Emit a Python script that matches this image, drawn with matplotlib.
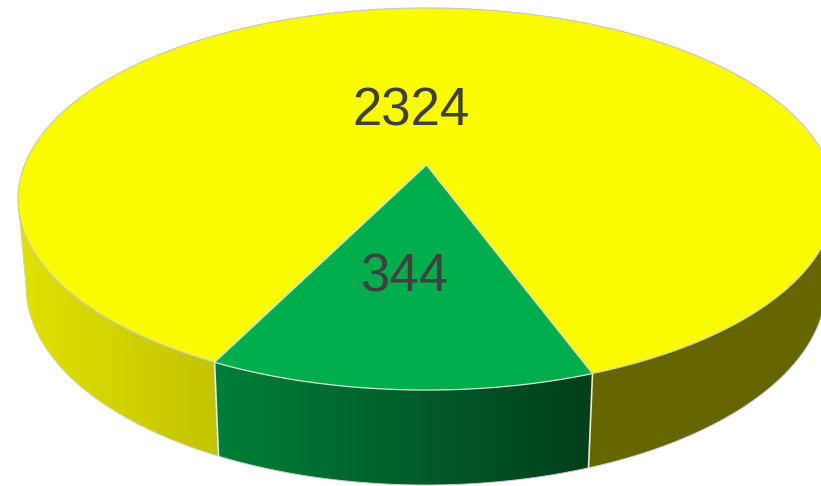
import numpy as np
import matplotlib
matplotlib.use("Agg")
import matplotlib.pyplot as plt
from matplotlib.patches import Polygon

# slice values and how they look
values = [2324, 344]
labels = ["2324", "344"]
colors = [(0.98, 0.98, 0.0), (0.0, 0.68, 0.30)]
label_pos = [(411, 107), (404, 273)]

W, H = 821, 486
K = 0.178  # perspective strength
START = np.radians(-26.3)  # front left edge of the green slice
# apex x, apex y, vertical and horizontal scale of the top and bottom discs
TOP = (426.5, 165, 185, 402)
BOTTOM = (426, 250.6, 192.7, 393.6)
# angle where the disc outline turns back, the wall ends there
SILHOUETTE = np.arccos(K)


def project(theta, disc):
    """Map an angle on the unit circle (0 = towards viewer) to pixels."""
    cx, cy, a, b = disc
    u = np.sin(theta)
    v = np.cos(theta)
    w = 1 - K * v
    return cx + b * u / w, cy + a * v / w


def wall(ax, theta, color, xp, fp):
    xt, yt = project(theta, TOP)
    xb, yb = project(theta, BOTTOM)
    pts = np.column_stack([np.r_[xt, xb[::-1]], np.r_[yt, yb[::-1]]])
    patch = Polygon(pts, closed=True, fc="none", ec="none")
    ax.add_patch(patch)
    xs = np.arange(0, W) + 0.5
    f = np.interp(xs, xp, fp)
    img = np.array(color)[None, None, :] * f[None, :, None]
    im = ax.imshow(img, extent=(0, W, H, 0), aspect="auto", zorder=1,
                   interpolation="nearest")
    im.set_clip_path(patch)
    # thin outer outline
    ax.plot(xb, yb, color="#cfcfcf", lw=0.7, zorder=2)
    return xb, yb


fig = plt.figure(figsize=(W / 100, H / 100), dpi=100)
ax = fig.add_axes([0, 0, 1, 1])

sweep = np.array(values[::-1]) / sum(values) * 2 * np.pi
green_start = START
green_end = START + sweep[0]

# side walls, only the part towards the viewer shows
left = np.linspace(-SILHOUETTE, green_start, 120)
right = np.linspace(green_end, SILHOUETTE, 120)
front = np.linspace(green_start, green_end, 80)
yellow_x = [22, 218, 590, 821]
yellow_f = [0.90, 0.78, 0.41, 0.41]
wall(ax, left, colors[0], yellow_x, yellow_f)
wall(ax, right, colors[0], yellow_x, yellow_f)
wall(ax, front, colors[1], [218, 587], [0.73, 0.37])

ax.set_xlim(0, W)
ax.set_ylim(H, 0)
ax.axis("off")

# outline of the wall ends
for t in (-SILHOUETTE, SILHOUETTE):
    xt, yt = project(t, TOP)
    xb, yb = project(t, BOTTOM)
    ax.plot([xt, xb], [yt, yb], color="#cfcfcf", lw=0.7, zorder=2)

for t in (green_start, green_end):
    xt, yt = project(t, TOP)
    xb, yb = project(t, BOTTOM)
    ax.plot([xt, xb], [yt, yb], color="#e8ecd8", lw=1.2, zorder=3)

# top face
yellow = np.linspace(green_end, green_start + 2 * np.pi, 400)
xy, yy = project(yellow, TOP)
cx, cy = TOP[:2]
ax.add_patch(Polygon(np.column_stack([np.r_[cx, xy], np.r_[cy, yy]]), closed=True,
                     fc=colors[0], ec="#c8c8c0", lw=0.8, zorder=4))
xg, yg = project(front, TOP)
ax.add_patch(Polygon(np.column_stack([np.r_[cx, xg], np.r_[cy, yg]]), closed=True,
                     fc=colors[1], ec="#d5e5d5", lw=0.9, zorder=5))

for lab, (lx, ly) in zip(labels, label_pos):
    ax.text(lx, ly + 4, lab, ha="center", va="center", fontsize=38,
            family="Liberation Sans", color="#404040", zorder=6)

fig.savefig("out.png", dpi=100)
